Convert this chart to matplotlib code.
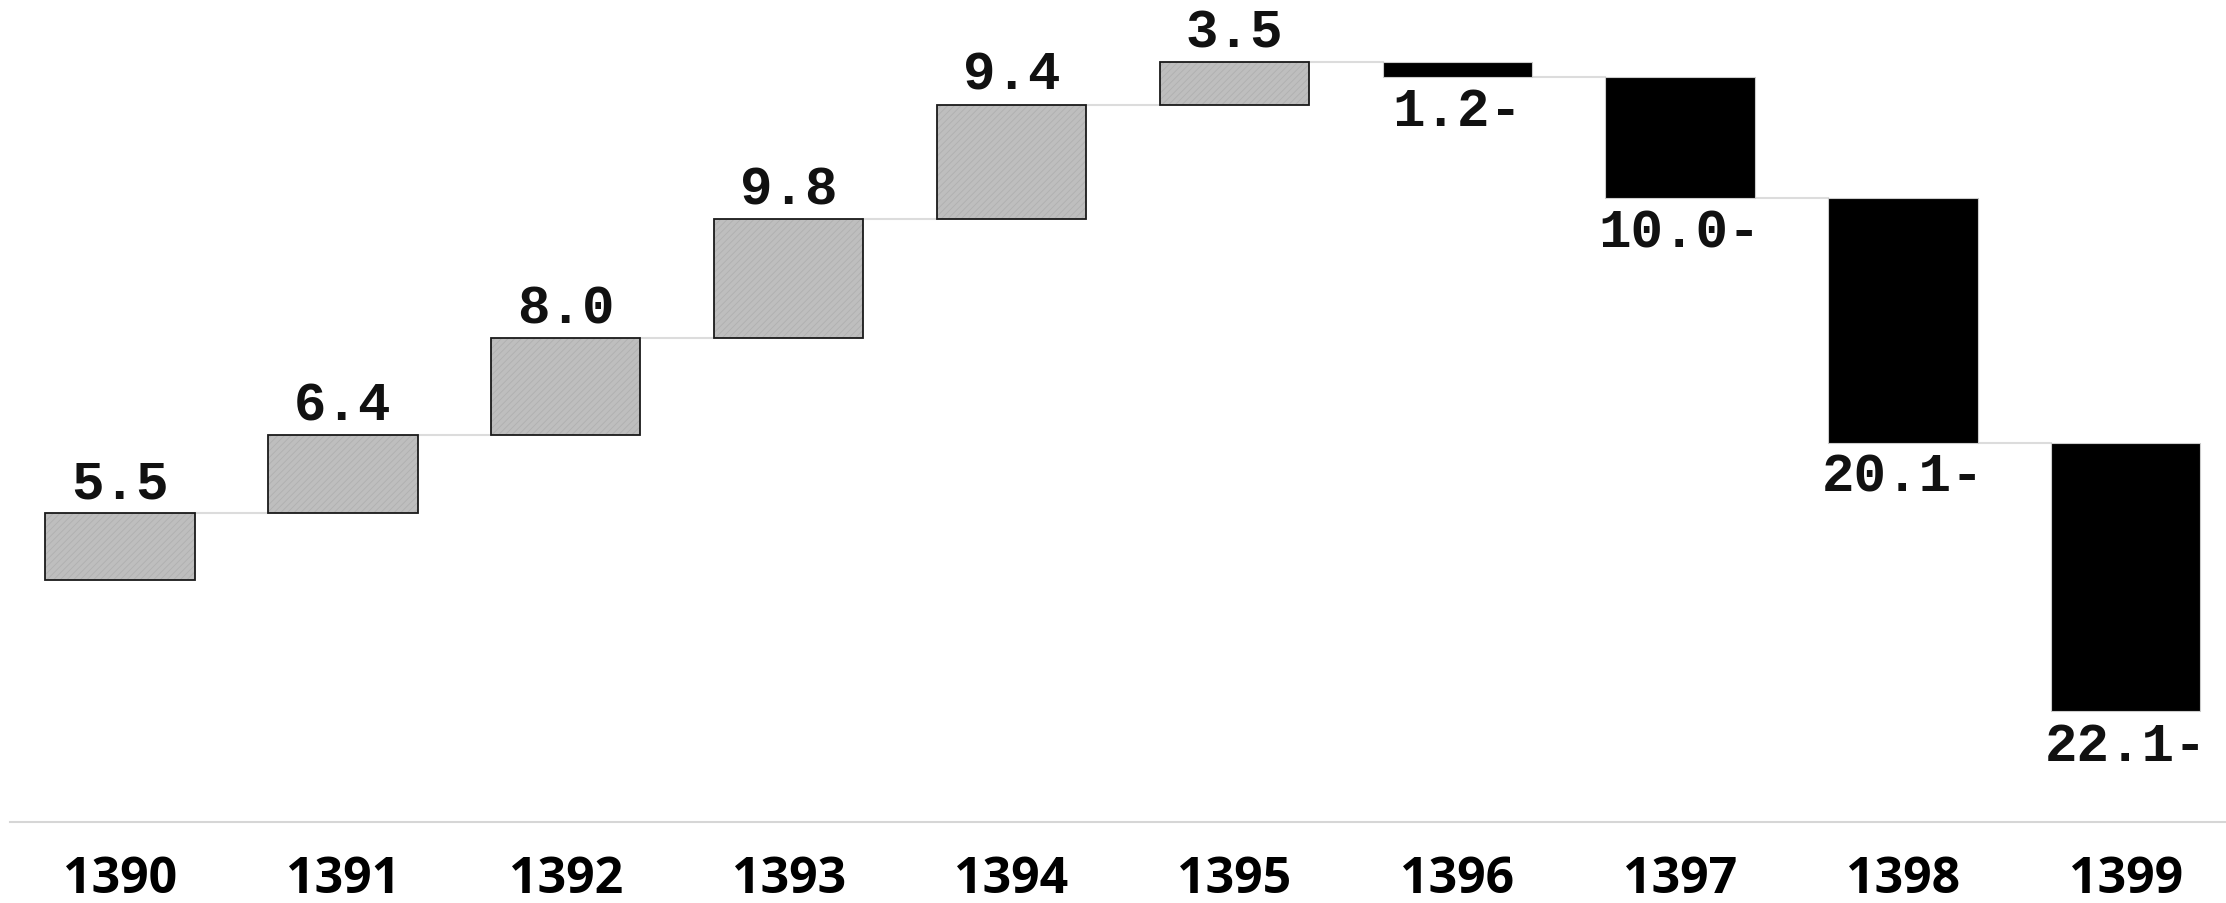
import matplotlib
matplotlib.use("Agg")
import matplotlib.pyplot as plt
import numpy as np

years = ["1390", "1391", "1392", "1393", "1394", "1395", "1396", "1397", "1398", "1399"]
changes = [5.5, 6.4, 8.0, 9.8, 9.4, 3.5, -1.2, -10.0, -20.1, -22.1]

plt.rcParams['hatch.linewidth'] = 0.6
plt.rcParams['hatch.color'] = '#b0b0b0'

fig = plt.figure(figsize=(22.26, 9.04), dpi=100)
ax = fig.add_axes([10/2226, (904-823.4)/904, 1-10/2226, 823.4/904])

vals = np.array(changes)
ends = np.cumsum(vals)
starts = ends - vals
x = np.arange(len(years))
w = 0.67

for i, v in enumerate(vals):
    if v >= 0:
        ax.bar(x[i], v, bottom=starts[i], width=w, color='#bebebe', hatch='/////',
               edgecolor='#b0b0b0', linewidth=0, zorder=2)
        ax.bar(x[i], v, bottom=starts[i], width=w, fill=False,
               edgecolor='#1a1a1a', linewidth=1.3, zorder=3)
    else:
        ax.bar(x[i], v, bottom=starts[i], width=w, color='black',
               edgecolor='#cccccc', linewidth=0.8, zorder=3)

# connectors
for i in range(len(vals) - 1):
    ax.plot([x[i] + w/2, x[i+1] - w/2], [ends[i], ends[i]], color='#dcdcdc', lw=1.5, zorder=1)

for i, v in enumerate(vals):
    if v >= 0:
        txt = f"{v:.1f}"
        ax.annotate(txt, (x[i], ends[i]), xytext=(0, 11.5), textcoords='offset points',
                    ha='center', va='baseline', fontsize=39, family='Liberation Mono',
                    fontweight='bold', color='#111111')
    else:
        txt = f"{abs(v):.1f}-"
        ax.annotate(txt, (x[i], ends[i]), xytext=(0, -34.7), textcoords='offset points',
                    ha='center', va='baseline', fontsize=39, family='Liberation Mono',
                    fontweight='bold', color='#111111')

ax.set_xlim(-0.494, 9.45)
ax.set_ylim(-19.93, 47.8)
ax.set_xticks(x)
ax.set_xticklabels(years, fontsize=36, family='Open Sans',
                   fontweight='bold', color='black')
ax.tick_params(axis='x', length=0, pad=23)
ax.set_yticks([])
for s in ['top', 'right', 'left']:
    ax.spines[s].set_visible(False)
ax.spines['bottom'].set_color('#d6d6d6')
ax.spines['bottom'].set_linewidth(1.5)

fig.savefig("out.png", dpi=100)
